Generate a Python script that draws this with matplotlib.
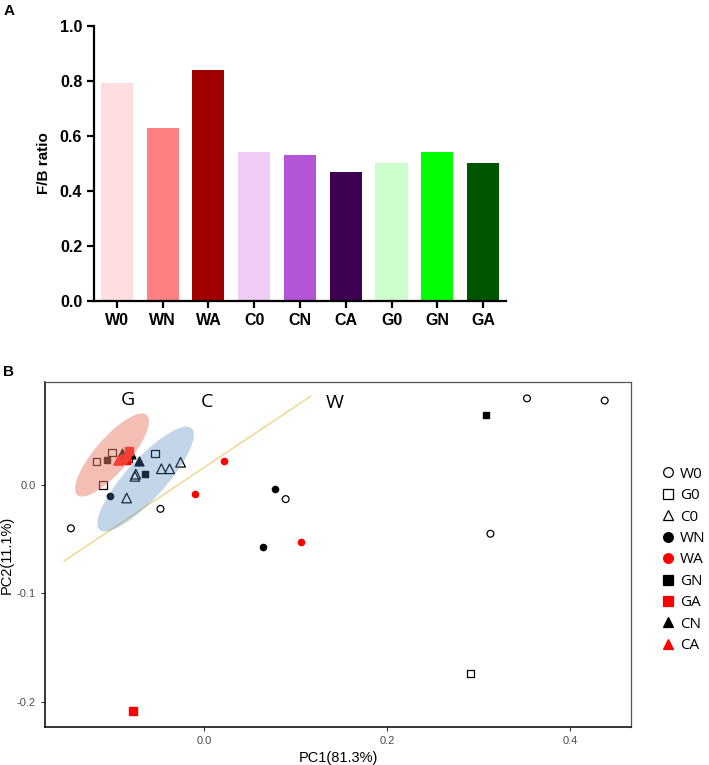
import numpy as np
import matplotlib
matplotlib.use("Agg")
import matplotlib.pyplot as plt
from matplotlib.patches import Polygon
from matplotlib.lines import Line2D

# panel A: F/B ratio
groups = ["W0", "WN", "WA", "C0", "CN", "CA", "G0", "GN", "GA"]
fb_ratio = [0.79, 0.63, 0.84, 0.54, 0.53, 0.47, 0.50, 0.54, 0.50]
bar_colors = ["#FDDDDD", "#FF8080", "#A00000", "#EECCF6", "#B455D6",
              "#3E0050", "#CCFFCC", "#00FF00", "#005500"]

# panel B: PCA scores
w0_x = [-0.146, -0.048, 0.089, 0.353, 0.438, 0.313]
w0_y = [-0.040, -0.022, -0.013, 0.080, 0.078, -0.045]
g0_x = [-0.118, -0.101, -0.111, -0.083, -0.054, 0.291]
g0_y = [0.022, 0.030, 0.000, 0.025, 0.029, -0.174]
c0_x = [-0.085, -0.075, -0.076, -0.047, -0.038, -0.026]
c0_y = [-0.012, 0.010, 0.008, 0.015, 0.015, 0.021]
wn_x = [0.077, 0.064, -0.103]
wn_y = [-0.004, -0.057, -0.010]
wa_x = [0.022, -0.010, 0.106]
wa_y = [0.022, -0.008, -0.053]
gn_x = [-0.107, -0.065, 0.308]
gn_y = [0.023, 0.010, 0.065]
cn_x = [-0.090, -0.071, -0.080]
cn_y = [0.030, 0.022, 0.029]
ga_x = [-0.086, -0.082, -0.078]
ga_y = [0.023, 0.031, -0.209]
ca_x = [-0.095, -0.091, -0.088]
ca_y = [0.023, 0.024, 0.025]

fig = plt.figure(figsize=(7.09, 7.65), dpi=100)

# ---- A ----
axA = fig.add_axes([0.1326, 0.6065, 0.581, 0.36])
axA.bar(range(len(groups)), fb_ratio, width=0.7, color=bar_colors)
axA.set_xlim(-0.5, 8.5)
axA.set_ylim(0, 1.0)
axA.set_yticks([0.0, 0.2, 0.4, 0.6, 0.8, 1.0])
axA.set_xticks(range(len(groups)))
axA.set_xticklabels(groups)
for s in ["top", "right"]:
    axA.spines[s].set_visible(False)
for s in ["left", "bottom"]:
    axA.spines[s].set_linewidth(1.6)
axA.tick_params(width=1.6, length=5, labelsize=11.5)
for lab in axA.get_xticklabels() + axA.get_yticklabels():
    lab.set_fontfamily("Liberation Sans")
    lab.set_fontweight("bold")
axA.set_ylabel("F/B ratio", fontsize=11, fontweight="bold",
               fontfamily="Liberation Sans", labelpad=6)
fig.text(0.005, 0.985, "A", fontsize=11, fontweight="bold",
         fontfamily="Liberation Sans", va="center")

# ---- B ----
axB = fig.add_axes([0.0635, 0.05, 0.8265, 0.4502])
axB.set_xlim(-0.1743, 0.4668)
axB.set_ylim(-0.2232, 0.0948)

hollow = dict(facecolors="none", edgecolors="black", linewidths=0.9, zorder=3)
axB.scatter(w0_x, w0_y, marker="o", s=24, **hollow)
axB.scatter(g0_x, g0_y, marker="s", s=28, **hollow)
axB.scatter(c0_x, c0_y, marker="^", s=48, **hollow)
axB.scatter(wn_x, wn_y, marker="o", s=20, color="black", zorder=3)
axB.scatter(wa_x, wa_y, marker="o", s=20, color="red", zorder=3)
axB.scatter(gn_x, gn_y, marker="s", s=24, color="black", zorder=3)
axB.scatter(cn_x, cn_y, marker="^", s=40, color="black", zorder=3)
axB.scatter(ga_x, ga_y, marker="s", s=30, color="red", zorder=4)
axB.scatter(ca_x, ca_y, marker="^", s=44, color="red", zorder=4)

# group ellipses (centre, major and minor half-axes in data units)
t = np.linspace(0, 2 * np.pi, 200)
def ellipse(c, u, v):
    return np.column_stack([c[0] + np.cos(t) * u[0] + np.sin(t) * v[0],
                            c[1] + np.cos(t) * u[1] + np.sin(t) * v[1]])

axB.add_patch(Polygon(ellipse((-0.101, 0.0277), (0.0379, 0.0369), (0.0140, -0.0103)),
                      closed=True, facecolor="#E8806A", alpha=0.5, lw=0, zorder=5))
axB.add_patch(Polygon(ellipse((-0.0642, 0.0055), (0.0503, 0.0468), (0.0160, -0.0122)),
                      closed=True, facecolor="#4A84BE", alpha=0.33, lw=0, zorder=5))

axB.plot([-0.1535, 0.1167], [-0.0702, 0.0822], color="#F0D27A", lw=0.9, zorder=2)

for txt, x, y in [("G", -0.0842, 0.0785), ("C", 0.0033, 0.077), ("W", 0.143, 0.0754)]:
    axB.text(x, y, txt, fontsize=14, fontfamily="Open Sans", ha="center", va="center")

axB.set_xticks([0.0, 0.2, 0.4])
axB.set_yticks([-0.2, -0.1, 0.0])
axB.set_xticklabels(["0.0", "0.2", "0.4"])
axB.set_yticklabels(["-0.2", "-0.1", "0.0"])
axB.tick_params(length=3, width=0.8, colors="#333333", labelcolor="#4D4D4D",
                labelsize=8)
for lab in axB.get_xticklabels() + axB.get_yticklabels():
    lab.set_fontfamily("Liberation Sans")
for s in axB.spines.values():
    s.set_color("#555555")
    s.set_linewidth(0.9)
for s in ["left", "bottom"]:
    axB.spines[s].set_color("black")
    axB.spines[s].set_linewidth(1.1)
axB.set_xlabel("PC1(81.3%)", fontsize=10.5, fontfamily="Liberation Sans", labelpad=4)
axB.set_ylabel("PC2(11.1%)", fontsize=10.5, fontfamily="Liberation Sans", labelpad=2)
fig.text(0.004, 0.514, "B", fontsize=11, fontweight="bold",
         fontfamily="Liberation Sans", va="center")

# legend
leg_labels = ["W0", "G0", "C0", "WN", "WA", "GN", "GA", "CN", "CA"]
leg_markers = ["o", "s", "^", "o", "o", "s", "s", "^", "^"]
leg_fill = ["none", "none", "none", "black", "red", "black", "red", "black", "red"]
leg_edge = ["black", "black", "black", "black", "red", "black", "red", "black", "red"]
handles = [Line2D([], [], ls="none", marker=m, markersize=7, markerfacecolor=f,
                  markeredgecolor=e, markeredgewidth=0.9)
           for m, f, e in zip(leg_markers, leg_fill, leg_edge)]
fig.legend(handles, leg_labels, loc="center left", bbox_to_anchor=(0.925, 0.268),
           frameon=False, handlelength=0.8, handletextpad=0.4, labelspacing=0.42,
           borderaxespad=0, prop={"family": "Open Sans", "size": 11})

fig.savefig("out.png", dpi=100)
